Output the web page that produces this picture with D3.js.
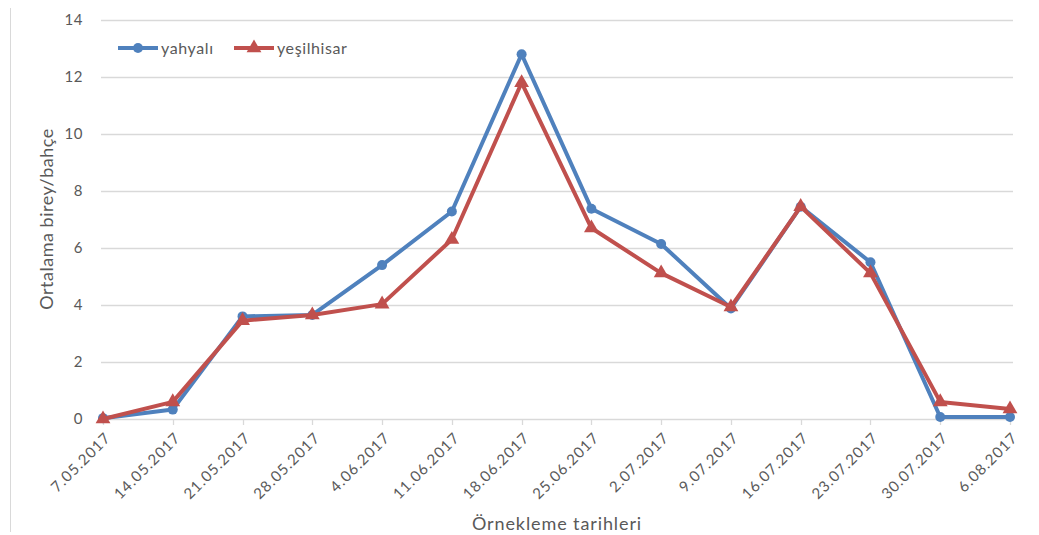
<!DOCTYPE html>
<html><head><meta charset="utf-8">
<script src="https://cdn.jsdelivr.net/npm/d3@7"></script>
<style>body{margin:0;background:#fff}svg{display:block}text{font-family:Lato,"Liberation Sans",sans-serif;fill:#595959}</style>
</head><body>
<script>
const dates = ["7.05.2017","14.05.2017","21.05.2017","28.05.2017","4.06.2017","11.06.2017","18.06.2017","25.06.2017","2.07.2017","9.07.2017","16.07.2017","23.07.2017","30.07.2017","6.08.2017"];
const yahyali = [0.03,0.33,3.6,3.65,5.4,7.28,12.8,7.38,6.14,3.88,7.45,5.5,0.07,0.07];
const yesilhisar = [0,0.6,3.45,3.65,4.03,6.3,11.8,6.7,5.12,3.93,7.45,5.12,0.6,0.35];
const yTicks = [0,2,4,6,8,10,12,14];
const seriesNames = ["yahyalı","yeşilhisar"];
const colors = ["#4F81BD","#C0504D"];

(function(){
const W=1039,H=535;
const svg=d3.select("body").append("svg").attr("width",W).attr("height",H);
const pL=101,pR=1013,pT=20,pB=419;
const x=d3.scalePoint().domain(dates).range([103,1010]);
const y=d3.scaleLinear().domain([0,14]).range([pB,pT]);

svg.append("line").attr("x1",10.5).attr("x2",10.5).attr("y1",8).attr("y2",532).attr("stroke","#d9d9d9");

svg.append("g").selectAll("line").data(yTicks).join("line")
  .attr("x1",pL).attr("x2",pR).attr("y1",d=>Math.round(y(d))+0.5).attr("y2",d=>Math.round(y(d))+0.5)
  .attr("stroke","#d9d9d9").attr("stroke-width",1.3);

svg.append("g").selectAll("text").data(yTicks).join("text")
  .attr("x",83).attr("y",d=>y(d)).attr("dy","0.35em").attr("text-anchor","end")
  .style("font-size","15px").style("letter-spacing","0.5px").text(d=>d);

const xa=svg.append("g");
xa.selectAll("line").data(dates).join("line")
  .attr("x1",d=>Math.round(x(d))+0.5).attr("x2",d=>Math.round(x(d))+0.5)
  .attr("y1",pB).attr("y2",pB+6).attr("stroke","#d9d9d9").attr("stroke-width",1.3);
xa.selectAll("text").data(dates).join("text")
  .attr("transform",d=>`translate(${x(d)+5},${pB+16}) rotate(-45)`)
  .attr("text-anchor","end").attr("dy","0.35em")
  .style("font-size","15px").style("letter-spacing","1px").text(d=>d);

svg.append("text").attr("transform","translate(53,219) rotate(-90)").attr("text-anchor","middle")
  .style("font-size","18px").style("letter-spacing","0.5px").text("Ortalama birey/bahçe");
svg.append("text").attr("x",557).attr("y",530).attr("text-anchor","middle")
  .style("font-size","18px").style("letter-spacing","0.9px").text("Örnekleme tarihleri");

const line=d3.line().x((d,i)=>x(dates[i])).y(d=>y(d));
const tri=d3.symbol().type(d3.symbolTriangle).size(95);
[yahyali,yesilhisar].forEach((vals,k)=>{
  const g=svg.append("g");
  g.append("path").datum(vals).attr("d",line).attr("fill","none")
    .attr("stroke",colors[k]).attr("stroke-width",4).attr("stroke-linejoin","round");
  if(k===0){
    g.selectAll("circle").data(vals).join("circle").attr("cx",(d,i)=>x(dates[i])).attr("cy",d=>y(d))
      .attr("r",5).attr("fill",colors[k]);
  } else {
    g.selectAll("path.m").data(vals).join("path").attr("class","m")
      .attr("transform",(d,i)=>`translate(${x(dates[i])},${y(d)})`).attr("d",tri).attr("fill",colors[k]);
  }
});

const lg=svg.append("g");
const legX=[118,234];
seriesNames.forEach((n,k)=>{
  lg.append("line").attr("x1",legX[k]).attr("x2",legX[k]+40).attr("y1",48).attr("y2",48)
    .attr("stroke",colors[k]).attr("stroke-width",4);
  if(k===0) lg.append("circle").attr("cx",legX[k]+20).attr("cy",48).attr("r",5).attr("fill",colors[k]);
  else lg.append("path").attr("transform",`translate(${legX[k]+20},48)`).attr("d",tri).attr("fill",colors[k]);
  lg.append("text").attr("x",legX[k]+43).attr("y",48).attr("dy","0.35em").style("font-size","16px").style("letter-spacing","0.6px").text(n);
});
})();
</script>
</body></html>
